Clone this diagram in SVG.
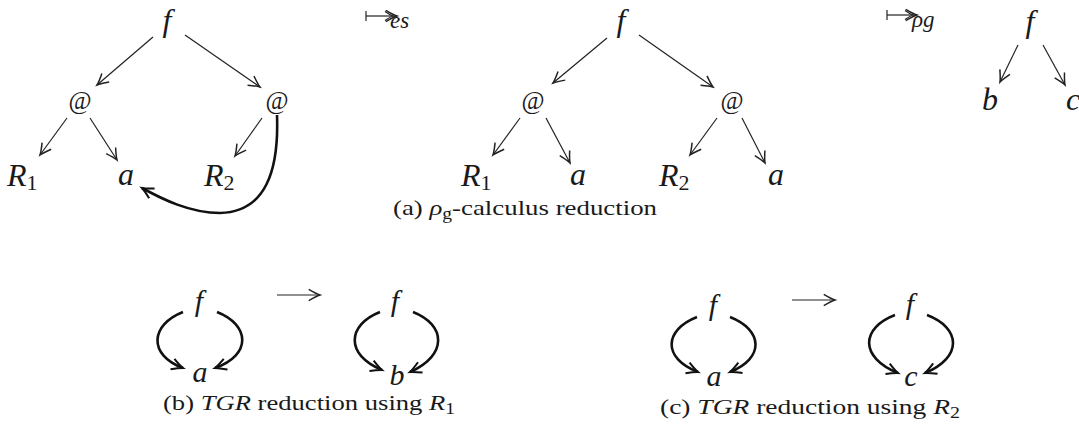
<svg xmlns="http://www.w3.org/2000/svg" width="1079" height="430" viewBox="0 0 1079 430">
<style>
text{font-family:"Liberation Serif","Times New Roman","DejaVu Serif",serif;fill:#1a1a1a}
.m{font-style:italic;font-size:32px;text-anchor:middle}
.m2{font-style:italic;font-size:30px;text-anchor:middle}
.ms{font-style:italic;font-size:32px}
.sub{font-style:italic;font-size:23px}
.at{font-size:25px;text-anchor:middle}
.cap{font-size:22px}
.thin{stroke:#222;stroke-width:1.2;fill:none;marker-end:url(#ah)}
.thick{stroke:#111;stroke-width:2.6;fill:none;marker-end:url(#ahk)}
.plain{stroke:#222;stroke-width:1.2;fill:none}
</style>
<defs>
<marker id="ah" markerUnits="userSpaceOnUse" markerWidth="20" markerHeight="20" refX="0" refY="0" viewBox="-12 -8 16 16" orient="auto">
<path d="M-9,-4.5 Q-3,-1 0,0 Q-3,1 -9,4.5" fill="none" stroke="#222" stroke-width="1.2"/>
</marker>
<marker id="ahk" markerUnits="userSpaceOnUse" markerWidth="20" markerHeight="20" refX="0" refY="0" viewBox="-12 -8 16 16" orient="auto">
<path d="M-9,-4.5 Q-3,-1 0,0 Q-3,1 -9,4.5" fill="none" stroke="#111" stroke-width="1.6"/>
</marker>
</defs>

<g id="connectors">
<line class="thin" x1="153" y1="37" x2="97" y2="85"/>
<line class="thin" x1="185" y1="35" x2="260" y2="87"/>
<line class="thin" x1="67" y1="118" x2="40" y2="155"/>
<line class="thin" x1="90" y1="118" x2="117" y2="160"/>
<line class="thin" x1="262" y1="118" x2="235" y2="156"/>
<path class="thick" d="M277,115 C279,170 266,212 220,213 C190,213 162,199 142,188"/>
<line class="thin" x1="607" y1="38" x2="553" y2="83"/>
<line class="thin" x1="639" y1="35" x2="713" y2="87"/>
<line class="thin" x1="520" y1="118" x2="493" y2="155"/>
<line class="thin" x1="546" y1="118" x2="570" y2="163"/>
<line class="thin" x1="717" y1="118" x2="690" y2="155"/>
<line class="thin" x1="742" y1="118" x2="765" y2="163"/>
<line class="thin" x1="1018" y1="45" x2="1000" y2="82"/>
<line class="thin" x1="1043" y1="45" x2="1065" y2="85"/>
<line class="plain" x1="366" y1="11" x2="366" y2="21"/>
<line class="thin" x1="366" y1="16" x2="397" y2="16"/>
<path class="plain" d="M385,11.5 Q390,15 393,16 Q390,17 385,20.5"/>
<line class="plain" x1="887" y1="10" x2="887" y2="20"/>
<line class="thin" x1="887" y1="15" x2="917" y2="15"/>
<path class="plain" d="M905,10.5 Q910,14 913,15 Q910,16 905,19.5"/>
<line class="thin" x1="277" y1="295" x2="320" y2="295"/>
<path class="thick" d="M183,312 C150,325 148,355 183,368"/>
<path class="thick" d="M217,312 C250,325 252,355 215,368"/>
<path class="thick" d="M380,312 C347,325 345,355 382,370"/>
<path class="thick" d="M413,312 C446,325 448,355 410,372"/>
<line class="thin" x1="792" y1="300" x2="835" y2="300"/>
<path class="thick" d="M697,317 C664,330 662,358 698,372"/>
<path class="thick" d="M730,317 C763,330 765,358 730,372"/>
<path class="thick" d="M895,315 C861,328 859,357 898,373"/>
<path class="thick" d="M927,315 C961,328 963,357 925,373"/>
</g>

<g id="a1-f"><text class="m" x="167" y="31">f</text></g>
<g id="a1-at1"><text class="at" x="80" y="109">@</text></g>
<g id="a1-at2"><text class="at" x="277" y="109">@</text></g>
<g id="a1-R1"><text class="ms" x="7" y="186">R<tspan font-style="normal" font-size="22" dy="4">1</tspan></text></g>
<g id="a1-a"><text class="m" x="126" y="185">a</text></g>
<g id="a1-R2"><text class="ms" x="204" y="186">R<tspan font-style="normal" font-size="22" dy="4">2</tspan></text></g>
<g id="a-es"><text class="sub" x="390" y="28">es</text></g>

<g id="a2-f"><text class="m" x="621" y="31">f</text></g>
<g id="a2-at1"><text class="at" x="533" y="109">@</text></g>
<g id="a2-at2"><text class="at" x="732" y="109">@</text></g>
<g id="a2-R1"><text class="ms" x="461" y="186">R<tspan font-style="normal" font-size="22" dy="4">1</tspan></text></g>
<g id="a2-a1"><text class="m" x="578" y="185">a</text></g>
<g id="a2-R2"><text class="ms" x="659" y="186">R<tspan font-style="normal" font-size="22" dy="4">2</tspan></text></g>
<g id="a2-a2"><text class="m" x="776" y="185">a</text></g>
<g id="a-rhog"><text class="sub" x="912" y="27">ρg</text></g>

<g id="a3-f"><text class="m" x="1030" y="32">f</text></g>
<g id="a3-b"><text class="m" x="990" y="110">b</text></g>
<g id="a3-c"><text class="m" x="1073" y="110">c</text></g>

<g id="cap-a"><text class="cap" x="393" y="215" textLength="264" lengthAdjust="spacingAndGlyphs">(a) <tspan font-style="italic">ρ</tspan><tspan font-size="16" dy="4">g</tspan><tspan dy="-4">-calculus reduction</tspan></text></g>

<g id="b-f1"><text class="m2" x="199" y="311">f</text></g>
<g id="b-a"><text class="m2" x="200" y="382">a</text></g>
<g id="b-f2"><text class="m2" x="395" y="311">f</text></g>
<g id="b-b"><text class="m2" x="397" y="385">b</text></g>
<g id="cap-b"><text class="cap" x="163" y="410" textLength="292" lengthAdjust="spacingAndGlyphs">(b) <tspan font-style="italic">TGR</tspan> reduction using <tspan font-style="italic">R</tspan><tspan font-size="16" dy="4">1</tspan></text></g>

<g id="c-f1"><text class="m2" x="713" y="315">f</text></g>
<g id="c-a"><text class="m2" x="714" y="386">a</text></g>
<g id="c-f2"><text class="m2" x="910" y="314">f</text></g>
<g id="c-c"><text class="m2" x="911" y="386">c</text></g>
<g id="cap-c"><text class="cap" x="660" y="414" textLength="300" lengthAdjust="spacingAndGlyphs">(c) <tspan font-style="italic">TGR</tspan> reduction using <tspan font-style="italic">R</tspan><tspan font-size="16" dy="4">2</tspan></text></g>
</svg>
